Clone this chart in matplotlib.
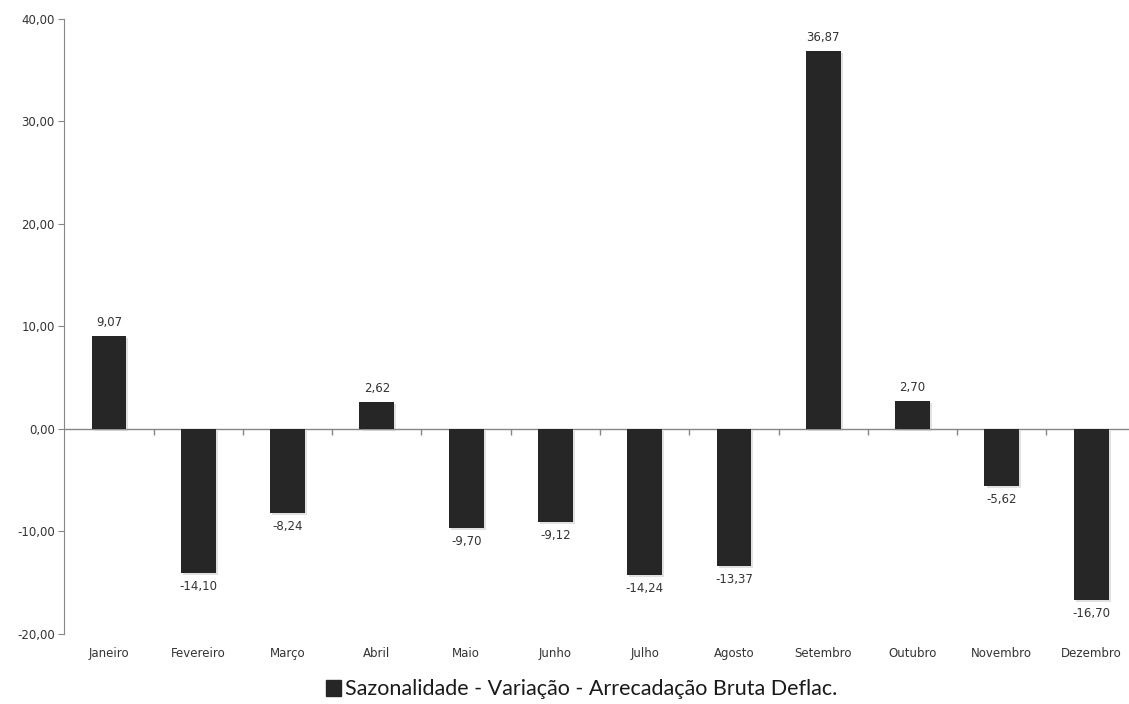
import numpy as np
import matplotlib.pyplot as plt
import matplotlib.patheffects as pe
from matplotlib.patches import Patch

meses = ["Janeiro", "Fevereiro", "Março", "Abril", "Maio", "Junho",
         "Julho", "Agosto", "Setembro", "Outubro", "Novembro", "Dezembro"]
valores = [9.07, -14.10, -8.24, 2.62, -9.70, -9.12,
           -14.24, -13.37, 36.87, 2.70, -5.62, -16.70]
yticks = [-20, -10, 0, 10, 20, 30, 40]

plt.rcParams['font.family'] = ['DejaVu Sans']
cor_texto = "#333333"

fig = plt.figure(figsize=(11.29, 7.04), dpi=100)
ax = fig.add_axes([0.057, 0.1, 0.949, 0.873])

x = np.arange(len(meses))
barras = ax.bar(x, valores, width=0.39, color="#262626", zorder=3,
                path_effects=[pe.SimplePatchShadow(offset=(1.5, -1.5), shadow_rgbFace="#aaaaaa", alpha=0.35),
                              pe.Normal()])

for xi, v in zip(x, valores):
    txt = f"{v:.2f}".replace(".", ",")
    if v >= 0:
        ax.annotate(txt, (xi, v), xytext=(0, 5), textcoords="offset points",
                    ha="center", va="bottom", fontsize=8.5, color=cor_texto)
    else:
        ax.annotate(txt, (xi, v), xytext=(0, -5), textcoords="offset points",
                    ha="center", va="top", fontsize=8.5, color=cor_texto)

ax.set_xlim(-0.5, len(meses) - 0.5)
ax.set_ylim(-20, 40)
ax.set_yticks(yticks)
ax.set_yticklabels([f"{t:.2f}".replace(".", ",") for t in yticks], fontsize=8.5, color=cor_texto)
ax.set_xticks(x)
ax.set_xticklabels(meses, fontsize=8.5, color=cor_texto)
ax.tick_params(axis="x", length=0, pad=10)
ax.tick_params(axis="y", length=4, color="#868686", pad=3)

for s in ["top", "right", "bottom"]:
    ax.spines[s].set_visible(False)
ax.spines["left"].set_color("#868686")

# linha do zero com marcas entre as categorias
ax.axhline(0, color="#868686", lw=1, zorder=2)
ax.vlines(x[:-1] + 0.5, -0.6, 0, color="#868686", lw=1, zorder=2)

fig.legend(handles=[Patch(color="#262626", label="Sazonalidade - Variação - Arrecadação Bruta Deflac.")],
           loc="center", bbox_to_anchor=(0.515, 0.021), frameon=False,
           prop={'family': ['Lato', 'DejaVu Sans'], 'size': 15.5},
           handlelength=0.7, handleheight=0.8, handletextpad=0.2, labelcolor="#1a1a1a")

fig.savefig("out.png", dpi=100)
